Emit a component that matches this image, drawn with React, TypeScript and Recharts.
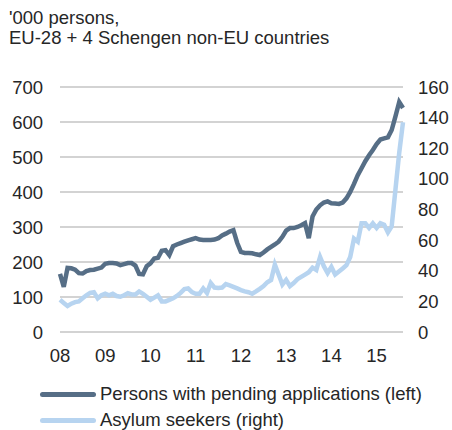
import { LineChart, Line, XAxis, YAxis, CartesianGrid } from 'recharts';

// monthly, Jan 2008 .. Aug 2015
const pending = [
  166, 129, 183, 182, 178, 168, 167, 174, 177, 178, 181, 184,
  195, 197, 197, 196, 191, 194, 197, 197, 190, 166, 165, 188,
  196, 210, 212, 232, 234, 220, 245, 250, 254, 258, 262, 265,
  268, 264, 263, 263, 263, 264, 268, 276, 281, 287, 291, 255,
  229, 226, 226, 225, 222, 220, 227, 236, 243, 250, 258, 272,
  290, 297, 297, 300, 305, 311, 268, 330, 350, 362, 370, 373,
  368, 367, 366, 370, 382, 400, 423, 448, 468, 488, 505, 520,
  537, 550, 553, 556, 577, 616, 657, 640,
];

const asylum = [
  21, 19, 17, 18.5, 19.5, 20, 22, 24, 25.5, 26, 22, 24,
  25, 24, 25, 23.5, 23, 24, 25.3, 24.5, 24.5, 26.5, 25, 23,
  21, 22.5, 24, 20, 20, 21, 22, 23.5, 25.5, 28, 28.5, 26,
  25, 25, 28.5, 25.5, 32, 29, 28.7, 29, 31.3, 30.5, 29.5, 28.5,
  27.4, 26.5, 26, 25, 26.5, 28.2, 30, 32.5, 34, 44, 37.5, 31,
  34, 30, 32, 34.5, 36, 37.5, 39, 42, 40.5, 49, 43, 38.5,
  42.5, 37.5, 39.5, 41.5, 43.7, 49, 61, 59, 71, 71, 68, 71,
  68, 71, 70, 65, 69, 93, 117, 137,
];

const yearLabels = ['08', '09', '10', '11', '12', '13', '14', '15'];
const leftTicks = [0, 100, 200, 300, 400, 500, 600, 700];
const rightTicks = [0, 20, 40, 60, 80, 100, 120, 140, 160];

const SERIES = [
  { key: 'pending', name: 'Persons with pending applications (left)', color: '#566e86', axis: 'left' },
  { key: 'asylum', name: 'Asylum seekers (right)', color: '#b7d4f0', axis: 'right' },
];

const data = pending.map((p, i) => ({ i, pending: p, asylum: asylum[i] }));

const FONT = '"Liberation Sans", Arial, sans-serif';
const TEXT = '#262626';
const FS = 18.5;
const tick = { fill: TEXT, fontSize: FS, fontFamily: FONT };

export default function App() {
  return (
    <div style={{ position: 'absolute', left: 0, top: 0, width: 452, height: 430, background: '#fff', fontFamily: FONT, color: TEXT }}>
      {/* Title */}
      <div style={{ position: 'absolute', left: 9, top: 8, fontSize: FS, lineHeight: '20px' }}>
        '000 persons,<br />EU-28 + 4 Schengen non-EU countries
      </div>

      <LineChart width={452} height={430} data={data} margin={{ top: 87, right: 0, bottom: 68, left: 0 }}>
        <CartesianGrid yAxisId="left" vertical={false} stroke="#a8a8a8" strokeWidth={1.2} />
        <XAxis
          dataKey="i" type="number" domain={[0, 91]} ticks={yearLabels.map((_, k) => k * 12)}
          tickFormatter={(v: number) => yearLabels[v / 12]} axisLine={false} tickLine={false}
          tickSize={0} tickMargin={17} height={30} tick={tick} interval={0}
        />
        <YAxis
          yAxisId="left" domain={[0, 700]} ticks={leftTicks} width={60} axisLine={false} tickLine={false}
          tickSize={0} tickMargin={17} tick={tick} interval={0}
        />
        <YAxis
          yAxisId="right" orientation="right" domain={[0, 160]} ticks={rightTicks} width={49} axisLine={false}
          tickLine={false} tickSize={0} tickMargin={15} tick={{ ...tick, textAnchor: 'start' }} interval={0}
        />
        {SERIES.slice().reverse().map((s) => (
          <Line
            key={s.key} yAxisId={s.axis} dataKey={s.key} stroke={s.color} strokeWidth={4.5}
            dot={false} isAnimationActive={false} type="linear" strokeLinejoin="miter"
          />
        ))}
      </LineChart>

      {/* Legend */}
      <div style={{ position: 'absolute', left: 40, top: 381, fontSize: FS, lineHeight: '26px' }}>
        {SERIES.map((s) => (
          <div key={s.key} style={{ display: 'flex', alignItems: 'center', height: 26 }}>
            <div style={{ width: 56, height: 5, borderRadius: 3, background: s.color, marginRight: 4 }} />
            <span>{s.name}</span>
          </div>
        ))}
      </div>
    </div>
  );
}
